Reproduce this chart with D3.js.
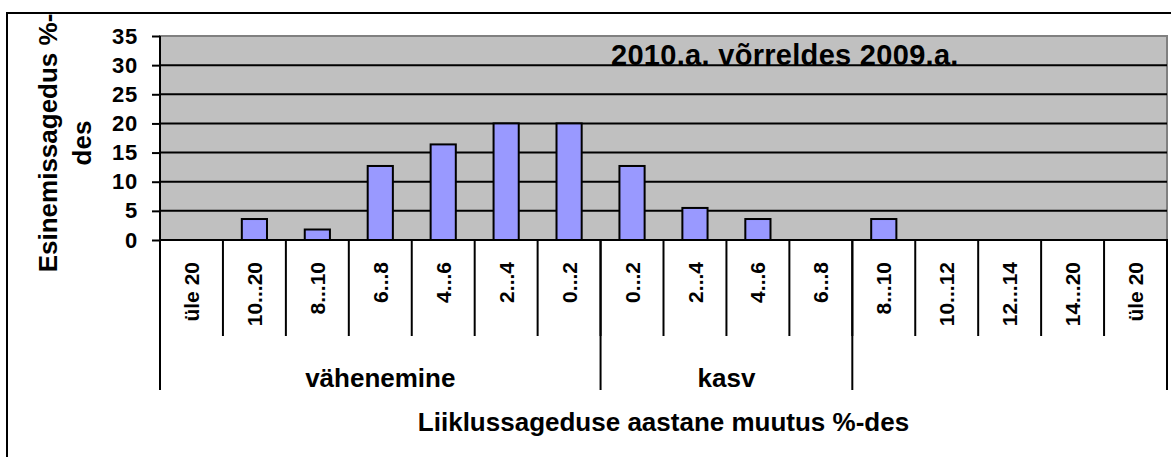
<!DOCTYPE html>
<html>
<head>
<meta charset="utf-8">
<script src="https://cdn.jsdelivr.net/npm/d3@7"></script>
<style>
  body { margin: 0; background: #fff; }
  svg text { font-family: "Liberation Sans", Arial, sans-serif; font-weight: bold; fill: #000; }
</style>
</head>
<body>
<div id="chart"></div>
<script>
// data
var categories = ["üle 20", "10...20", "8...10", "6...8", "4...6", "2...4", "0...2",
                  "0...2", "2...4", "4...6", "6...8",
                  "8...10", "10...12", "12...14", "14...20", "üle 20"];
var values = [0, 3.6, 1.8, 12.7, 16.4, 20.0, 20.0, 12.7, 5.5, 3.6, 0, 3.6, 0, 0, 0, 0];
var groupLabels = ["vähenemine", "kasv", ""];
var groupSizes = [7, 4, 5];
var yTicks = [0, 5, 10, 15, 20, 25, 30, 35];

var width = 1171, height = 457;
var svg = d3.select("#chart").append("svg").attr("width", width).attr("height", height);

// outer chart border (runs off the right and bottom edge)
svg.append("rect").attr("x", 7).attr("y", 13).attr("width", 1200).attr("height", 500)
    .attr("fill", "#fff").attr("stroke", "#000").attr("stroke-width", 2);

var plotLeft = 160, plotRight = 1167, plotTop = 36, plotBottom = 240;

var x = d3.scaleBand().domain(d3.range(categories.length)).range([plotLeft, plotRight])
    .paddingInner(0.6).paddingOuter(0.3);
var step = x.step();
var y = d3.scaleLinear().domain([0, 35]).range([plotBottom, plotTop]);

// plot area
svg.append("rect").attr("x", plotLeft).attr("y", plotTop)
    .attr("width", plotRight - plotLeft).attr("height", plotBottom - plotTop)
    .attr("fill", "#c0c0c0").attr("stroke", "#808080").attr("stroke-width", 2);

// gridlines
svg.append("g").selectAll("line").data(yTicks.filter(function (d) { return d > 0 && d < 35; }))
    .enter().append("line")
    .attr("x1", plotLeft).attr("x2", plotRight)
    .attr("y1", function (d) { return y(d); }).attr("y2", function (d) { return y(d); })
    .attr("stroke", "#000").attr("stroke-width", 2);

// bars (empty categories get no bar)
var barData = values.map(function (v, i) { return {i: i, v: v}; }).filter(function (d) { return d.v > 0; });
svg.append("g").selectAll("rect").data(barData).enter().append("rect")
    .attr("x", function (d) { return x(d.i); })
    .attr("y", function (d) { return y(d.v); })
    .attr("width", x.bandwidth())
    .attr("height", function (d) { return plotBottom - y(d.v); })
    .attr("fill", "#9999ff").attr("stroke", "#000").attr("stroke-width", 2);

// y axis
var yAxis = d3.axisLeft(y).tickValues(yTicks).tickSize(8).tickPadding(14);
var gy = svg.append("g").attr("transform", "translate(" + plotLeft + ",0)").call(yAxis);
gy.select(".domain").attr("stroke", "#000").attr("stroke-width", 2)
    .attr("d", "M0," + plotTop + "V" + plotBottom);
gy.selectAll(".tick line").attr("stroke", "#000").attr("stroke-width", 2);
gy.selectAll(".tick text").attr("font-size", 22).attr("letter-spacing", 0.8)
    .style("font-family", "'Liberation Sans', Arial, sans-serif").style("font-weight", "bold");

// x axis line
svg.append("line").attr("x1", plotLeft).attr("x2", plotRight + 1)
    .attr("y1", plotBottom).attr("y2", plotBottom)
    .attr("stroke", "#000").attr("stroke-width", 2);

// category separators
svg.append("g").selectAll("line").data(d3.range(1, categories.length)).enter().append("line")
    .attr("x1", function (i) { return plotLeft + i * step; })
    .attr("x2", function (i) { return plotLeft + i * step; })
    .attr("y1", plotBottom).attr("y2", 336)
    .attr("stroke", "#000").attr("stroke-width", 2);

// category labels
svg.append("g").selectAll("text").data(categories).enter().append("text")
    .attr("transform", function (d, i) {
        return "translate(" + (x(i) + x.bandwidth() / 2) + ",262) rotate(-90)";
    })
    .attr("text-anchor", "end").attr("dy", "0.36em")
    .attr("font-size", 21)
    .text(function (d) { return d; });

// group separators and labels
var bounds = [0];
groupSizes.forEach(function (s) { bounds.push(bounds[bounds.length - 1] + s); });
svg.append("g").selectAll("line").data(bounds).enter().append("line")
    .attr("x1", function (b) { return plotLeft + b * step; })
    .attr("x2", function (b) { return plotLeft + b * step; })
    .attr("y1", plotBottom).attr("y2", 390)
    .attr("stroke", "#000").attr("stroke-width", 2);
svg.append("g").selectAll("text").data(groupLabels).enter().append("text")
    .attr("x", function (d, i) { return plotLeft + (bounds[i] + bounds[i + 1]) / 2 * step; })
    .attr("y", 387).attr("text-anchor", "middle").attr("font-size", 26)
    .text(function (d) { return d; });

// titles
svg.append("text").attr("x", 611).attr("y", 65).attr("font-size", 29).attr("letter-spacing", 0.3)
    .text("2010.a. võrreldes 2009.a.");
svg.append("text").attr("x", (plotLeft + plotRight) / 2).attr("y", 431).attr("text-anchor", "middle")
    .attr("font-size", 26).text("Liiklussageduse aastane muutus %-des");
var yt = svg.append("text").attr("transform", "translate(57,143) rotate(-90)")
    .attr("text-anchor", "middle").attr("font-size", 26);
yt.append("tspan").attr("x", 0).attr("y", 0).text("Esinemissagedus %-");
yt.append("tspan").attr("x", 0).attr("y", 34).text("des");
</script>
</body>
</html>
